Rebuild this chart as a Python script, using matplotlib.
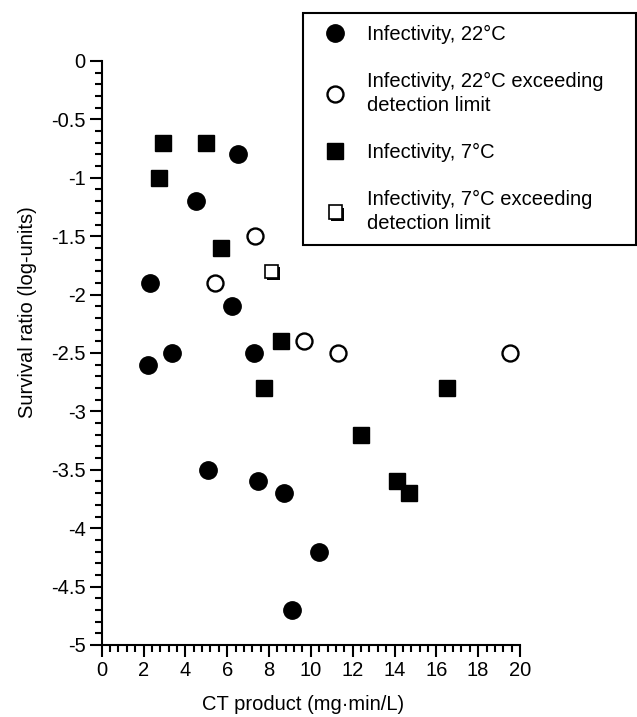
import matplotlib
matplotlib.use("Agg")
import matplotlib.pyplot as plt
import matplotlib.patheffects as pe
from matplotlib.ticker import MultipleLocator, FuncFormatter

plt.rcParams['font.family'] = ['Liberation Sans', 'DejaVu Sans']
plt.rcParams['axes.unicode_minus'] = False

# Infectivity, 22°C
ct_22 = [6.5, 4.5, 2.3, 6.25, 3.35, 7.3, 2.2, 5.1, 7.45, 8.7, 10.4, 9.1]
surv_22 = [-0.8, -1.2, -1.9, -2.1, -2.5, -2.5, -2.6, -3.5, -3.6, -3.7, -4.2, -4.7]

# Infectivity, 22°C exceeding detection limit
ct_22_lim = [7.35, 5.4, 9.65, 11.3, 19.5]
surv_22_lim = [-1.5, -1.9, -2.4, -2.5, -2.5]

# Infectivity, 7°C
ct_7 = [2.95, 5.0, 2.75, 5.7, 8.55, 7.75, 16.5, 12.4, 14.1, 14.7]
surv_7 = [-0.7, -0.7, -1.0, -1.6, -2.4, -2.8, -2.8, -3.2, -3.6, -3.7]

# Infectivity, 7°C exceeding detection limit
ct_7_lim = [8.1]
surv_7_lim = [-1.8]

labels = ['Infectivity, 22°C',
          'Infectivity, 22°C exceeding\ndetection limit',
          'Infectivity, 7°C',
          'Infectivity, 7°C exceeding\ndetection limit']

fig = plt.figure(figsize=(6.37, 7.17), dpi=100)
ax = fig.add_axes([101.7 / 637, 1 - 645 / 717, 418.3 / 637, 584 / 717])

ax.plot(ct_22, surv_22, 'o', ms=12.5, mfc='black', mec='black',
        label=labels[0], clip_on=False)
ax.plot(ct_22_lim, surv_22_lim, 'o', ms=11.5, mfc='white', mec='black',
        mew=1.7, label=labels[1], clip_on=False)
ax.plot(ct_7, surv_7, 's', ms=12, mfc='black', mec='black',
        label=labels[2], clip_on=False)
# open square drawn with a drop shadow, as in the original
shadow = [pe.SimplePatchShadow(offset=(1.5, -1.5), shadow_rgbFace='black', alpha=1.0),
          pe.Normal()]
ax.plot(ct_7_lim, surv_7_lim, 's', ms=9.5, mfc='white', mec='black',
        mew=1.2, label=labels[3], path_effects=shadow, clip_on=False)

ax.set_xlim(0, 20)
ax.set_ylim(-5, 0)
ax.xaxis.set_major_locator(MultipleLocator(2))
ax.xaxis.set_minor_locator(MultipleLocator(0.4))
ax.yaxis.set_major_locator(MultipleLocator(0.5))
ax.yaxis.set_minor_locator(MultipleLocator(0.1))
ax.yaxis.set_major_formatter(FuncFormatter(lambda v, _: "0" if abs(v) < 1e-9 else f"{v:g}"))

for side in ['top', 'right']:
    ax.spines[side].set_visible(False)
for side in ['left', 'bottom']:
    ax.spines[side].set_linewidth(1.5)

ax.tick_params(which='major', direction='out', length=8.5, width=1.5,
               labelsize=14.5, pad=3)
ax.tick_params(which='minor', direction='out', length=5, width=1.5)

ax.set_xlabel("CT product (mg·min/L)", fontsize=14.5)
ax.set_ylabel("Survival ratio (log-units)", fontsize=14.5)
ax.xaxis.set_label_coords(0.481, -0.085)
ax.yaxis.set_label_coords(-0.155, 0.57)

leg = ax.legend(loc='upper left',
                bbox_to_anchor=(303 / 637, 1 - 239 / 717, 333 / 637, 226 / 717),
                bbox_transform=fig.transFigure, mode='expand', borderaxespad=0,
                fontsize=14.5, handlelength=2.0, handletextpad=0.6,
                borderpad=0.6, labelspacing=1.4, numpoints=1,
                fancybox=False, edgecolor='black', framealpha=1)
leg.get_frame().set_linewidth(1.5)
for t in leg.get_texts():
    t.set_linespacing(1.3)

fig.savefig("out.png", dpi=100)
plt.close(fig)
